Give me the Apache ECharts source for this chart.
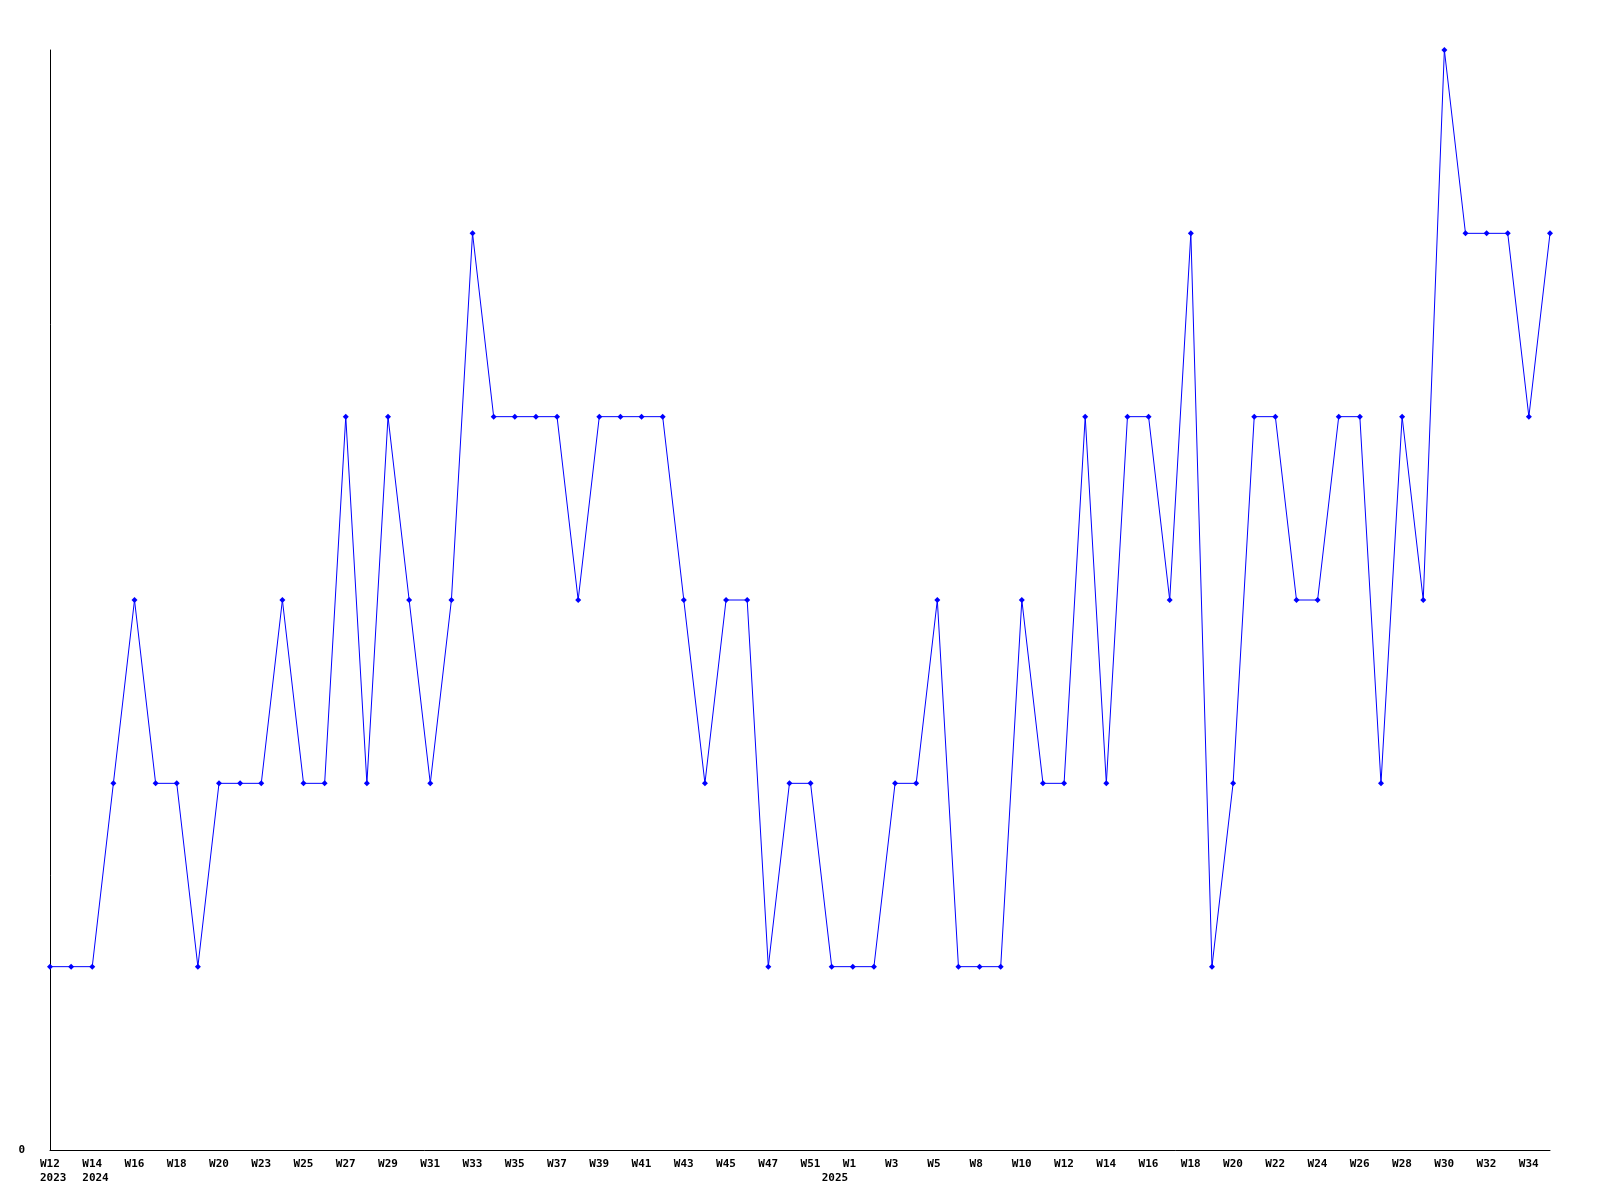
<!DOCTYPE html>
<html><head><meta charset="utf-8">
<script src="https://cdn.jsdelivr.net/npm/echarts@6/dist/echarts.min.js"></script>
<style>html,body{margin:0;padding:0;background:#fff}#c{width:1600px;height:1200px}</style>
</head><body><div id="c"></div>
<script>
const weeks = ["W12","W13","W14","W15","W16","W17","W18","W19","W20","W22","W23","W24","W25","W26","W27","W28","W29","W30","W31","W32","W33","W34","W35","W36","W37","W38","W39","W40","W41","W42","W43","W44","W45","W46","W47","W50","W51","W52","W1","W2","W3","W4","W5","W7","W8","W9","W10","W11","W12","W13","W14","W15","W16","W17","W18","W19","W20","W21","W22","W23","W24","W25","W26","W27","W28","W29","W30","W31","W32","W33","W34","W35"];
const values = [1,1,1,2,3,2,2,1,2,2,2,3,2,2,4,2,4,3,2,3,5,4,4,4,4,3,4,4,4,4,3,2,3,3,1,2,2,1,1,1,2,2,3,1,1,1,3,2,2,4,2,4,4,3,5,1,2,4,4,3,3,4,4,2,4,3,6,5,5,5,4,5];
const yearNames = ["2023","2024","2025"];
const yearAt = [0,2,37];
const yTicks = [0];

const font = {fontFamily:'DejaVu Sans Mono',fontWeight:'bold',fontSize:11,color:'#000',lineHeight:14};
const chart = echarts.init(document.getElementById('c'), null, {renderer:'canvas'});
chart.setOption({
  animation:false,
  backgroundColor:'#fff',
  grid:{left:50,right:50,top:50,bottom:50,containLabel:false},
  xAxis:{type:'category',data:weeks,boundaryGap:false,
    axisLine:{lineStyle:{color:'#000',width:1}},axisTick:{show:false},
    axisLabel:Object.assign({interval:0,margin:7,align:'center',
      formatter:(v,i)=>{
        const yi = yearAt.indexOf(i);
        const wk = i%2===0 ? v : '';
        if (yi<0) return wk ? '{w|'+wk+'}' : '';
        return '{w|'+(wk||'\u00a0')+'}\n{w|'+yearNames[yi]+'}';
      },
      rich:{w:Object.assign({width:20,align:'left'},font)}},font),
    splitLine:{show:false}},
  yAxis:{type:'value',min:0,max:6,interval:1,
    axisLine:{show:true,lineStyle:{color:'#000',width:1}},axisTick:{show:false},
    axisLabel:Object.assign({margin:25,formatter:v=>yTicks.includes(v)?String(v):''},font),
    splitLine:{show:false}},
  series:[{type:'line',data:values,symbol:'diamond',symbolSize:6,showAllSymbol:true,
    lineStyle:{color:'#0000ff',width:1},itemStyle:{color:'#0000ff'}}]
});
</script></body></html>
